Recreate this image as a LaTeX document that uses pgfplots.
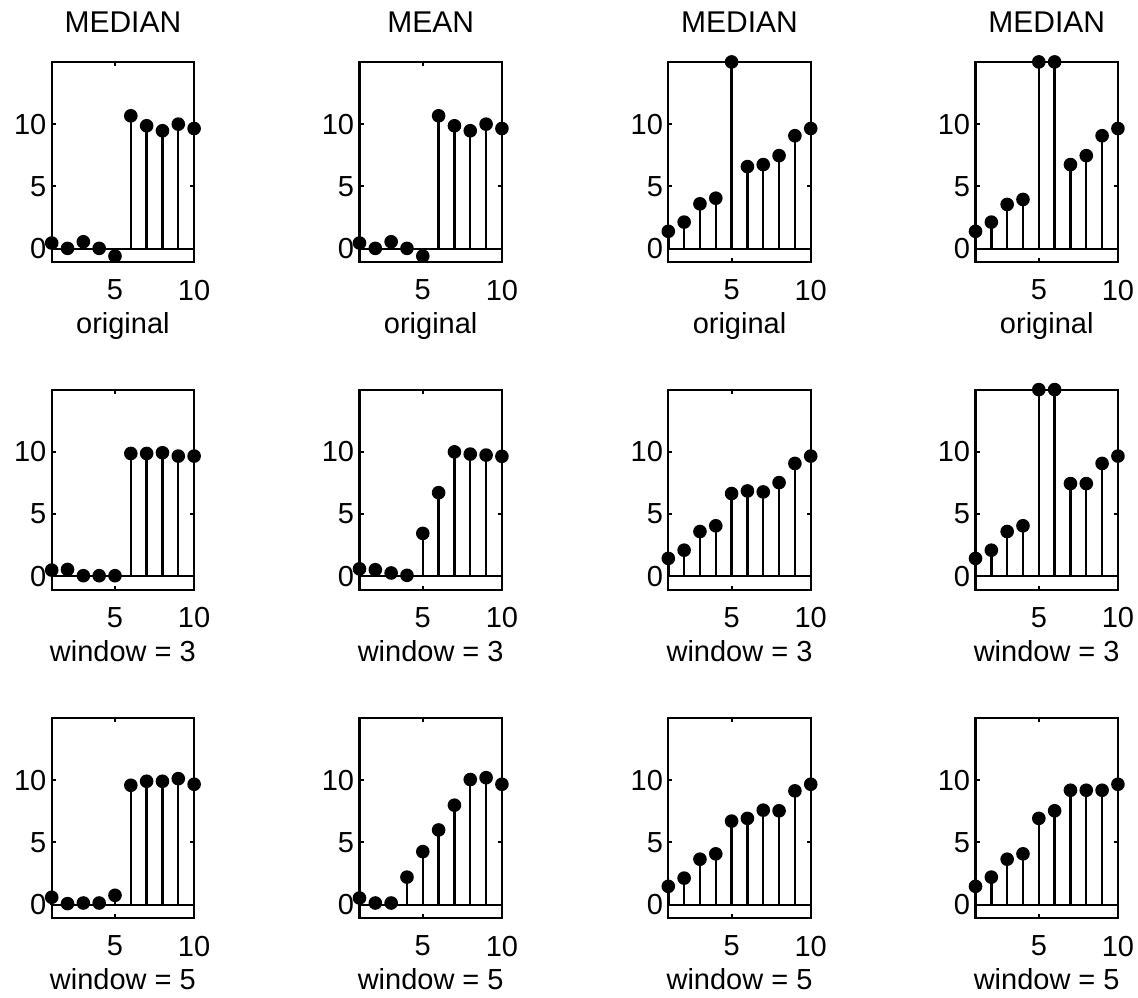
\documentclass[border=0pt]{standalone}
\usepackage{fontspec}
\setmainfont{Liberation Sans}
\usepackage{pgfplots}
\pgfplotsset{compat=1.18}
\newcommand{\lblfont}{\fontsize{14.5}{16}\selectfont}
\newcommand{\ttlfont}{\fontsize{15}{17}\selectfont}
\pgfplotsset{
  panel/.style={
    scale only axis, width=71.2pt, height=100.2pt,
    xmin=1, xmax=10, ymin=-1.1, ymax=15,
    xtick={5,10}, ytick={0,5,10},
    tick align=inside, major tick length=2pt,
    axis line style={line width=1.1pt},
    every tick/.style={black, line width=1.1pt},
    clip=false,
    extra y ticks={0}, extra y tick labels={},
    extra y tick style={grid=major, major grid style={black, line width=1.1pt}, major tick length=0pt},
    /pgf/number format/assume math mode=true,
    ticklabel style={font=\lblfont},
    xticklabel style={anchor=north, inner sep=0pt, yshift=-8.6pt},
    yticklabel style={anchor=east, inner sep=0pt, xshift=-2.5pt},
    xlabel style={at={(axis description cs:0.5,0)}, anchor=base, yshift=-35.8pt, inner sep=0pt, font=\lblfont},
    title style={at={(axis description cs:0.5,1)}, anchor=base, yshift=8.6pt, inner sep=0pt, font=\ttlfont},
    anchor=south west,
  },
  stem/.style={ycomb, black, line width=1.2pt, mark=*, mark size=3.0pt, mark options={fill=black, solid, line width=0.8pt}},
}
\begin{document}
\begin{tikzpicture}
\useasboundingbox (0,0) rectangle (569pt,-498.5pt);
% ---------- row 1 ----------
\begin{axis}[panel, at={(25.85pt,-131.15pt)}, title={MEDIAN}, xlabel={original}]
\addplot[stem] coordinates {(1,0.45) (2,0.02) (3,0.55) (4,0.02) (5,-0.6) (6,10.67) (7,9.87) (8,9.47) (9,10.0) (10,9.65)};
\end{axis}
\begin{axis}[panel, at={(179.75pt,-131.15pt)}, title={MEAN}, xlabel={original}]
\addplot[stem] coordinates {(1,0.45) (2,0.02) (3,0.55) (4,0.02) (5,-0.6) (6,10.67) (7,9.87) (8,9.47) (9,10.0) (10,9.65)};
\end{axis}
\begin{axis}[panel, at={(334.15pt,-131.15pt)}, title={MEDIAN}, xlabel={original}]
\addplot[stem] coordinates {(1,1.39) (2,2.13) (3,3.6) (4,4.05) (5,15) (6,6.59) (7,6.75) (8,7.47) (9,9.07) (10,9.65)};
\end{axis}
\begin{axis}[panel, at={(487.75pt,-131.15pt)}, title={MEDIAN}, xlabel={original}]
\addplot[stem] coordinates {(1,1.39) (2,2.13) (3,3.55) (4,3.95) (5,15) (6,15) (7,6.75) (8,7.47) (9,9.07) (10,9.65)};
\end{axis}
% ---------- row 2 ----------
\begin{axis}[panel, at={(25.85pt,-295pt)}, xlabel={window = 3}]
\addplot[stem] coordinates {(1,0.5) (2,0.55) (3,0.05) (4,0.05) (5,0.05) (6,9.87) (7,9.87) (8,9.93) (9,9.66) (10,9.66)};
\end{axis}
\begin{axis}[panel, at={(179.75pt,-295pt)}, xlabel={window = 3}]
\addplot[stem] coordinates {(1,0.6) (2,0.53) (3,0.27) (4,0.08) (5,3.45) (6,6.72) (7,10.0) (8,9.82) (9,9.74) (10,9.64)};
\end{axis}
\begin{axis}[panel, at={(334.15pt,-295pt)}, xlabel={window = 3}]
\addplot[stem] coordinates {(1,1.44) (2,2.1) (3,3.6) (4,4.06) (5,6.65) (6,6.86) (7,6.78) (8,7.53) (9,9.07) (10,9.66)};
\end{axis}
\begin{axis}[panel, at={(487.75pt,-295pt)}, xlabel={window = 3}]
\addplot[stem] coordinates {(1,1.44) (2,2.1) (3,3.6) (4,4.06) (5,15) (6,15) (7,7.45) (8,7.45) (9,9.07) (10,9.66)};
\end{axis}
% ---------- row 3 ----------
\begin{axis}[panel, at={(25.85pt,-459.15pt)}, xlabel={window = 5}]
\addplot[stem] coordinates {(1,0.59) (2,0.08) (3,0.13) (4,0.13) (5,0.75) (6,9.59) (7,9.91) (8,9.91) (9,10.12) (10,9.67)};
\end{axis}
\begin{axis}[panel, at={(179.75pt,-459.15pt)}, xlabel={window = 5}]
\addplot[stem] coordinates {(1,0.53) (2,0.13) (3,0.13) (4,2.21) (5,4.26) (6,6.0) (7,7.99) (8,10.05) (9,10.2) (10,9.67)};
\end{axis}
\begin{axis}[panel, at={(334.15pt,-459.15pt)}, xlabel={window = 5}]
\addplot[stem] coordinates {(1,1.47) (2,2.13) (3,3.65) (4,4.08) (5,6.71) (6,6.93) (7,7.59) (8,7.54) (9,9.14) (10,9.67)};
\end{axis}
\begin{axis}[panel, at={(487.75pt,-459.15pt)}, xlabel={window = 5}]
\addplot[stem] coordinates {(1,1.47) (2,2.21) (3,3.65) (4,4.08) (5,6.93) (6,7.54) (7,9.19) (8,9.19) (9,9.19) (10,9.67)};
\end{axis}
\end{tikzpicture}
\end{document}
